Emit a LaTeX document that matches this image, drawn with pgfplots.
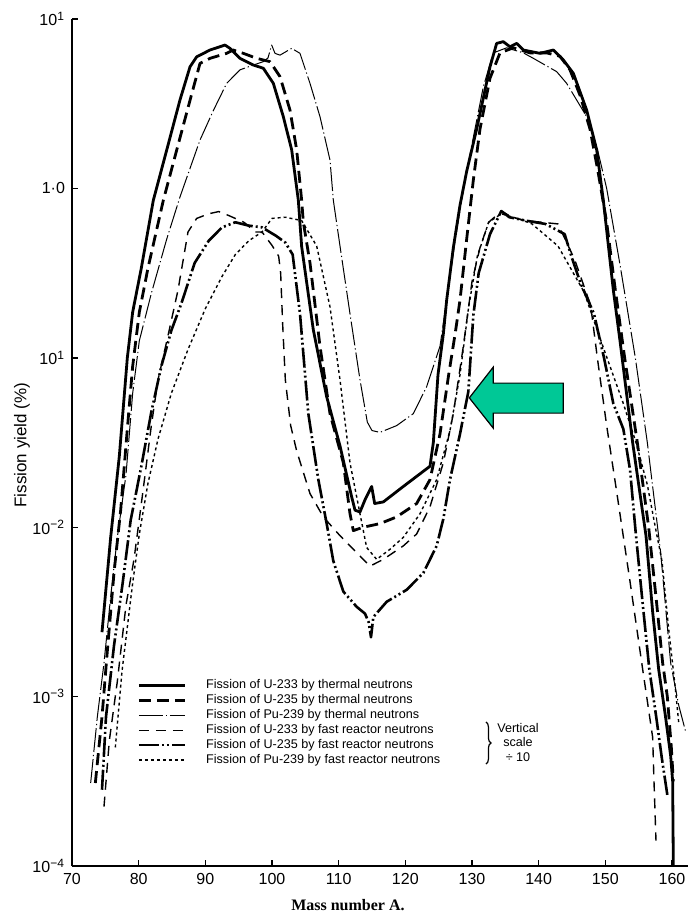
\documentclass[border=0pt]{standalone}
\usepackage{fontspec}
\setmainfont{Liberation Sans}
\newfontfamily\timesf{Liberation Serif}
\usepackage{pgfplots}
\pgfplotsset{compat=1.18}
\usetikzlibrary{decorations.pathreplacing}
\definecolor{arrowgreen}{RGB}{0,200,150}
\begin{document}
\begin{tikzpicture}
\begin{axis}[
  scale only axis, width=308pt, height=423.5pt,
  xmin=70, xmax=162.4, ymin=1e-4, ymax=10, ymode=log,
  axis x line=bottom, axis y line=left,
  axis line style={-, line width=1pt},
  xtick={70,80,90,100,110,120,130,140,150,160},
  xticklabels={70,80,90,100,110,120,130,140,150,160},
  ytick={1e-4,1e-3,1e-2,1e-1,1,10},
  yticklabels={10\textsuperscript{−4},10\textsuperscript{−3},10\textsuperscript{−2},10\textsuperscript{1},1·0,10\textsuperscript{1}},
  yminorticks=false, xminorticks=false,
  tick align=inside, major tick length=3pt,
  tick style={line width=0.7pt, black},
  ticklabel style={font=\fontsize{8}{9}\selectfont},
  xlabel={\timesf\bfseries Mass number A.},
  ylabel={Fission yield (\%)},
  x label style={at={(rel axis cs:0.448,0)}, anchor=center, yshift=-19.5pt, font=\fontsize{8}{9}\selectfont},
  y label style={at={(rel axis cs:0,0.497)}, anchor=center, rotate=0, yshift=25pt, font=\fontsize{8.5}{9}\selectfont},
  clip=false,
  every axis plot/.append style={black, line join=round},
  legend cell align=left,
  legend image code/.code={\draw[#1,line cap=butt] (0pt,0pt) -- (23pt,0pt);},
  legend style={at={(0.1055,0.2255)}, anchor=north west, draw=none, fill=none,
    font=\fontsize{6.3}{7}\selectfont, row sep=-2.6pt, inner sep=0pt,
    /tikz/every odd column/.append style={column sep=8pt}},
]
% Thermal U-233
\addplot[line width=1.4pt] coordinates {
(74.5,2.40e-3) (75.8,8.71e-3) (77.1,2.63e-2) (78.3,0.1) (79.1,0.186) (80.4,0.339) (82.2,0.851) (84.2,1.68) (86.2,3.33) (87.7,5.22) (88.7,5.98) (90.7,6.56) (92.95,7.02) (93.7,6.71) (95.2,5.86) (97.2,5.35) (98.7,5.12) (100.2,4.17) (101.7,2.65) (102.95,1.69) (103.95,0.851) (104.45,0.453) (106.2,0.146) (108.2,0.0589) (110.2,0.0302) (111.95,0.0151) (112.45,0.0126) (113.2,0.0123) (113.95,0.0145) (114.95,0.0174) (115.4,0.0138) (116.7,0.0141) (119.7,0.0174) (123.7,0.0229) (124.2,0.0316) (124.9,0.0794) (125.7,0.138) (126.2,0.219) (127.2,0.447) (128.2,0.794) (129.2,1.26) (130.7,2.24) (132.7,5.22) (133.7,7.18) (134.7,7.35) (135.7,6.85) (136.7,7.18) (137.7,6.56) (140.2,6.27) (142.2,6.56) (143.7,5.73) (145.2,4.78) (147.2,2.90) (148.7,1.69) (149.7,0.851) (151.2,0.251) (152.2,0.126) (154.1,0.0316) (156.1,8.91e-3) (157.1,3.16e-3) (158.0,1.45e-3) (159.0,7.76e-4) (159.8,4.47e-4) (160.1,3.16e-4) (160.2,1e-4)
};
\addlegendentry{Fission of U-233 by thermal neutrons}
% Thermal U-235
\addplot[line width=1.4pt, dash pattern=on 6pt off 3pt] coordinates {
(73.5,3.09e-4) (74.5,7.59e-4) (75.3,1.86e-3) (76.3,5.37e-3) (77.3,0.0126) (78.3,0.038) (79.1,0.0891) (80.1,0.186) (81.4,0.339) (83.7,0.851) (85.7,1.68) (87.7,3.31) (89.2,5.47) (90.7,5.86) (93.2,6.27) (94.2,6.56) (95.7,6.27) (97.7,5.86) (99.7,5.60) (101.2,4.57) (102.7,2.90) (103.7,1.69) (104.45,0.851) (104.7,0.631) (105.7,0.363) (107.2,0.117) (108.7,0.0468) (110.7,0.024) (111.7,0.012) (112.2,9.55e-3) (113.7,0.01) (116.2,0.0105) (118.7,0.0115) (121.7,0.0138) (123.7,0.0191) (125.2,0.0355) (126.5,0.0794) (127.5,0.141) (128.2,0.219) (129.2,0.501) (130.2,1.12) (131.2,2.24) (132.7,4.47) (134.2,6.31) (136.2,6.76) (138.7,6.31) (141.2,6.31) (143.2,6.03) (144.7,5.01) (146.2,3.55) (147.7,2.24) (148.9,1.26) (150.2,0.631) (151.5,0.251) (152.9,0.1) (154.8,0.0316) (156.5,0.01) (157.7,3.55e-3) (158.6,1.58e-3) (159.3,1e-3) (159.9,5.01e-4) (160.2,3.16e-4)
};
\addlegendentry{Fission of U-235 by thermal neutrons}
% Thermal Pu-239
\addplot[line width=0.5pt, dash pattern=on 12pt off 1.5pt on 0.6pt off 1.5pt] coordinates {
(72.8,3.09e-4) (73.8,7.59e-4) (74.8,1.58e-3) (75.8,3.89e-3) (76.8,8.71e-3) (78.1,0.0204) (79.1,0.0617) (80.1,0.126) (81.9,0.24) (84.2,0.501) (86.2,0.891) (89.2,1.93) (91.2,2.88) (93.2,4.17) (95.2,5.01) (97.2,5.35) (98.7,5.60) (99.4,5.89) (99.95,7.02) (100.45,6.27) (101.2,6.12) (102.95,6.71) (104.2,6.27) (105.7,4.17) (107.2,2.65) (108.7,1.47) (109.2,0.851) (110.2,0.457) (111.7,0.182) (113.2,0.0741) (114.3,0.0417) (115,0.0372) (116.2,0.0363) (118.7,0.0398) (121.2,0.0468) (123.2,0.0676) (125.2,0.117) (126.2,0.219) (127.5,0.501) (128.7,1.0) (130.2,2.0) (131.7,3.98) (133.2,6.31) (135.2,6.76) (137.7,6.31) (139.2,5.86) (142.7,4.89) (144.2,4.17) (147.2,2.65) (148.7,1.78) (150.2,1.0) (152.2,0.355) (154.5,0.1) (156.3,0.0316) (158.3,7.08e-3) (159.8,1.58e-3) (161.0,8.91e-4) (162.0,6.31e-4)
};
\addlegendentry{Fission of Pu-239 by thermal neutrons}
% Fast U-233 (/10)
\addplot[line width=0.7pt, dash pattern=on 5pt off 3.5pt] coordinates {
(74.8,2.24e-4) (75.6,5.5e-4) (76.8,1.23e-3) (78.1,3.47e-3) (79.3,6.46e-3) (80.6,0.0158) (81.9,0.0398) (82.9,0.0741) (84.4,0.135) (85.9,0.251) (87.4,0.553) (88.7,0.665) (90.5,0.708) (92.0,0.73) (93.5,0.692) (95.8,0.631) (97.5,0.553) (98.5,0.553) (100,0.461) (101.0,0.398) (101.3,0.316) (101.6,0.158) (102.0,0.0741) (102.8,0.0398) (103.7,0.0282) (105.7,0.0158) (107.7,0.0115) (110.2,8.91e-3) (112.7,7.08e-3) (114.7,5.89e-3) (116.7,6.46e-3) (119.7,7.76e-3) (121.7,9.12e-3) (123.7,0.0132) (125.7,0.024) (127.2,0.0468) (128.7,0.117) (130,0.282) (131.2,0.447) (132.5,0.631) (134.4,0.735) (136,0.676) (138,0.646) (140.5,0.631) (142.9,0.617) (145.4,0.38) (147.8,0.204) (148.8,0.1) (150.2,0.0398) (151.7,0.0162) (153.7,4.79e-3) (155.6,1.45e-3) (157.1,5.75e-4) (157.3,3.16e-4) (157.6,1.41e-4)
};
\addlegendentry{Fission of U-233 by fast reactor neutrons}
% Fast U-235 (/10)
\addplot[line width=1.3pt, dash pattern=on 10pt off 1.5pt on 1pt off 1.5pt on 1pt off 1.5pt] coordinates {
(74.5,2.82e-4) (75.1,7.59e-4) (76.3,2.0e-3) (77.6,4.68e-3) (78.8,0.011) (80.4,0.0229) (81.9,0.0479) (83.4,0.0891) (84.9,0.145) (86.4,0.209) (88.4,0.363) (90.5,0.49) (92.5,0.589) (94.5,0.631) (96.5,0.603) (98.5,0.589) (100.6,0.525) (102.0,0.479) (103.1,0.407) (104.2,0.182) (105.45,0.0468) (106.95,0.0191) (108.2,0.0105) (109.2,6.31e-3) (110.7,4.17e-3) (112.7,3.39e-3) (113.95,3.09e-3) (114.5,2.75e-3) (114.85,2.24e-3) (115.2,2.95e-3) (117.2,3.63e-3) (120.2,4.27e-3) (122.7,5.37e-3) (124.7,7.76e-3) (125.7,0.0112) (126.7,0.0191) (128.2,0.0355) (129.45,0.0631) (130.2,0.178) (131.0,0.316) (132.7,0.537) (134.4,0.735) (135.6,0.676) (138,0.646) (141,0.617) (143.9,0.537) (144.9,0.398) (146.3,0.275) (148.3,0.182) (149.8,0.1) (151.2,0.0537) (152.7,0.038) (153.7,0.0219) (154.6,8.91e-3) (155.6,3.55e-3) (156.6,1.45e-3) (157.6,7.76e-4) (158.5,4.27e-4) (159.3,2.63e-4)
};
\addlegendentry{Fission of U-235 by fast reactor neutrons}
% Fast Pu-239 (/10)
\addplot[line width=0.7pt, dash pattern=on 1.5pt off 1.5pt] coordinates {
(76.5,5.01e-4) (77.5,1.41e-3) (78.3,2.57e-3) (79.1,4.68e-3) (80.1,9.12e-3) (81.4,0.0182) (82.9,0.0331) (84.9,0.0617) (87.4,0.112) (90,0.195) (92.5,0.302) (94.5,0.407) (96.5,0.49) (98.5,0.553) (100,0.665) (102,0.676) (104.45,0.646) (106.7,0.457) (108.7,0.2) (110.2,0.0741) (111.7,0.024) (113.2,0.012) (114.2,7.59e-3) (115.7,6.46e-3) (117.7,7.41e-3) (119.7,8.71e-3) (122.2,0.012) (124.7,0.0191) (126.7,0.0372) (128.2,0.0794) (129.5,0.2) (130.8,0.398) (132.5,0.631) (134.4,0.708) (137,0.661) (139,0.617) (142.9,0.457) (146.8,0.245) (149.8,0.112) (152.7,0.0537) (154.6,0.0316) (156.3,0.0178) (157.5,0.01) (158.5,6.31e-3) (159.5,2.51e-3) (160.5,1.12e-3) (161.0,7.08e-4)
};
\addlegendentry{Fission of Pu-239 by fast reactor neutrons}
% brace and note
\draw[decorate, decoration={brace, amplitude=2.5pt}, line width=0.6pt] (rel axis cs:0.672,0.170) -- (rel axis cs:0.672,0.1204);
\node[font=\fontsize{6.3}{7}\selectfont] at (rel axis cs:0.724,0.1629) {Vertical};
\node[font=\fontsize{6.3}{7}\selectfont] at (rel axis cs:0.724,0.1464) {scale};
\node[font=\fontsize{6.3}{7}\selectfont] at (rel axis cs:0.724,0.1287) {÷ 10};
% arrow
\draw[fill=arrowgreen, draw=black, line width=0.6pt]
 (rel axis cs:0.6450,0.5527) -- (rel axis cs:0.6839,0.5890) -- (rel axis cs:0.6839,0.5701) -- (rel axis cs:0.7976,0.5701) -- (rel axis cs:0.7976,0.5347) -- (rel axis cs:0.6839,0.5347) -- (rel axis cs:0.6839,0.5169) -- cycle;
\end{axis}
\pgfresetboundingbox
\path (-36pt,-27.5pt) rectangle (308pt,433pt);
\end{tikzpicture}
\end{document}
